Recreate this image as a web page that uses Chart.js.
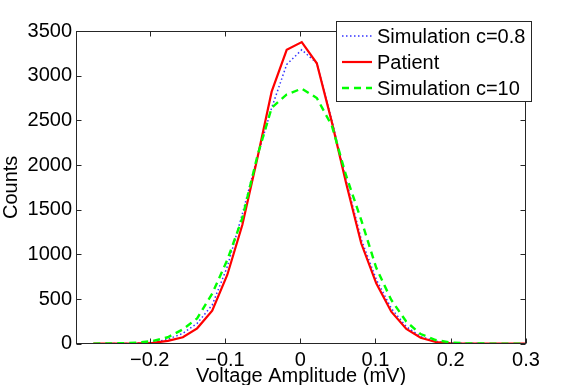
<!DOCTYPE html>
<html>
<head>
<meta charset="utf-8">
<script src="https://cdn.jsdelivr.net/npm/chart.js@4/dist/chart.umd.min.js"></script>
<style>
html,body{margin:0;padding:0;background:#fff;}
#wrap{width:581px;height:385px;position:relative;}
</style>
</head>
<body>
<div id="wrap"><canvas id="c" width="581" height="385"></canvas></div>
<script>
// Bin centres (mV)
const voltage = [-0.275, -0.255, -0.236, -0.216, -0.196, -0.176, -0.156, -0.137, -0.117, -0.097,
                 -0.077, -0.057, -0.038, -0.018, 0.002, 0.022, 0.042, 0.061, 0.081, 0.101,
                 0.121, 0.141, 0.160, 0.180, 0.200, 0.220, 0.240, 0.259, 0.279, 0.299];
const simC08 = [0, 1, 2, 5, 15, 49, 116, 228, 433, 860,
                1450, 2090, 2640, 3125, 3290, 3140, 2500, 1830, 1170, 720,
                395, 190, 80, 27, 8, 3, 1, 0, 0, 0];
const patient = [0, 0, 1, 3, 10, 32, 72, 172, 369, 769,
                 1329, 2075, 2821, 3290, 3376, 3138, 2480, 1795, 1124, 676,
                 358, 165, 67, 19, 5, 2, 1, 0, 0, 0];
const simC10 = [1, 3, 6, 12, 30, 72, 161, 284, 560, 937,
                1404, 2100, 2640, 2790, 2855, 2750, 2440, 1880, 1385, 850,
                489, 246, 108, 41, 14, 5, 2, 1, 0, 0];
const xTicks = [-0.2, -0.1, 0, 0.1, 0.2, 0.3];
const yTicks = [0, 500, 1000, 1500, 2000, 2500, 3000, 3500];
const seriesNames = ['Simulation c=0.8', 'Patient', 'Simulation c=10'];

const FONT = 'Liberation Sans, Arial, Helvetica, sans-serif';
const pts = arr => voltage.map((v, i) => ({x: v, y: arr[i]}));

const frame = {
  id: 'frame',
  afterDatasetsDraw(chart) {
    const {ctx, chartArea: a, scales: {x, y}} = chart;
    ctx.save();
    ctx.strokeStyle = '#262626';
    ctx.lineWidth = 1;
    const L = Math.round(a.left) + 0.5, R = Math.round(a.right) - 0.5;
    const T = Math.round(a.top) + 0.5, B = Math.round(a.bottom) - 0.5;
    ctx.strokeRect(L, T, R - L, B - T);
    const tl = 5;
    ctx.beginPath();
    x.ticks.forEach(t => {
      const px = Math.round(x.getPixelForValue(t.value)) + 0.5;
      ctx.moveTo(px, B); ctx.lineTo(px, B - tl);
      ctx.moveTo(px, T); ctx.lineTo(px, T + tl);
    });
    y.ticks.forEach(t => {
      const py = Math.round(y.getPixelForValue(t.value)) + 0.5;
      ctx.moveTo(L, py); ctx.lineTo(L + tl, py);
      ctx.moveTo(R, py); ctx.lineTo(R - tl, py);
    });
    ctx.stroke();
    ctx.restore();
  },
  afterDraw(chart) {
    const {ctx} = chart;
    // legend box
    const bx = 336.5, by = 21.5, bw = 195, bh = 80;
    ctx.save();
    ctx.fillStyle = '#fff';
    ctx.fillRect(bx, by, bw, bh);
    ctx.strokeStyle = '#262626';
    ctx.lineWidth = 1;
    ctx.strokeRect(bx, by, bw, bh);
    const rows = [36, 62, 88];
    const order = [0, 1, 2];
    ctx.font = '20px ' + FONT;
    ctx.textBaseline = 'middle';
    ctx.fillStyle = '#000';
    order.forEach((di, r) => {
      const ds = chart.data.datasets.find(d => d.label === seriesNames[di]);
      const yy = rows[r];
      ctx.save();
      ctx.strokeStyle = ds.borderColor;
      ctx.lineWidth = ds.borderWidth;
      ctx.setLineDash(ds.borderDash || []);
      ctx.beginPath();
      ctx.moveTo(342, yy); ctx.lineTo(372, yy);
      ctx.stroke();
      ctx.restore();
      ctx.fillText(ds.label, 377, yy + 1);
    });
    ctx.restore();
  }
};

new Chart(document.getElementById('c'), {
  type: 'line',
  data: {
    datasets: [
      {label: seriesNames[2], data: pts(simC10), borderColor: '#00ff00', borderWidth: 2.4,
       borderDash: [7, 5], pointRadius: 0, tension: 0, order: 1},
      {label: seriesNames[1], data: pts(patient), borderColor: '#ff0000', borderWidth: 2.2,
       pointRadius: 0, tension: 0, order: 2},
      {label: seriesNames[0], data: pts(simC08), borderColor: '#3333ff', borderWidth: 1.5,
       borderDash: [1.5, 2.5], pointRadius: 0, tension: 0, order: 3}
    ]
  },
  options: {
    responsive: false,
    animation: false,
    devicePixelRatio: 1,
    layout: {padding: {left: 0, right: 55, top: 31, bottom: 0}},
    plugins: {legend: {display: false}, tooltip: {enabled: false}},
    scales: {
      x: {
        type: 'linear', min: -0.298, max: 0.3,
        afterBuildTicks: s => { s.ticks = xTicks.map(v => ({value: v})); },
        afterFit: s => { s.height = 41.3; },
        grid: {display: false, drawTicks: false},
        border: {display: false},
        ticks: {
          color: '#000', font: {family: FONT, size: 20}, padding: 5, maxRotation: 0,
          callback: v => (v < 0 ? '\u2212' : '') + Math.abs(v).toFixed(1).replace(/^0\.0$/, '0')
        },
        title: {display: true, text: 'Voltage Amplitude (mV)', color: '#000',
                font: {family: FONT, size: 20, lineHeight: 0.9}, padding: 0}
      },
      y: {
        type: 'linear', min: 0, max: 3500,
        afterBuildTicks: s => { s.ticks = yTicks.map(v => ({value: v})); },
        afterFit: s => { s.width = 76; },
        grid: {display: false, drawTicks: false},
        border: {display: false},
        ticks: {color: '#000', font: {family: FONT, size: 20}, padding: 4,
                callback: v => String(v)},
        title: {display: true, text: 'Counts', color: '#000',
                font: {family: FONT, size: 20, lineHeight: 1.1}, padding: 0}
      }
    }
  },
  plugins: [frame]
});
</script>
</body>
</html>
